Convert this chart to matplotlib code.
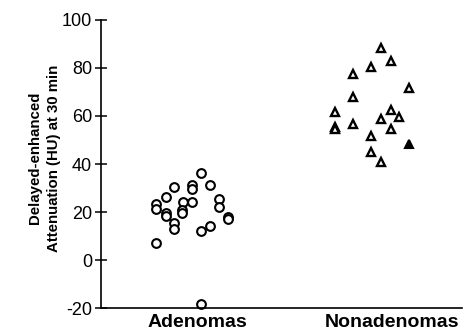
import numpy as np
import matplotlib.pyplot as plt

plt.rcParams['font.family'] = ['Liberation Sans', 'DejaVu Sans']

categories = ["Adenomas", "Nonadenomas"]

# adenomas: horizontal jitter (category units) and HU values
aden_dx = [0.02, 0.067, -0.027, -0.027, -0.118, -0.16, -0.21, -0.21, -0.07, -0.075,
           -0.075, -0.027, -0.16, -0.16, -0.12, -0.12, 0.113, 0.113, 0.16, 0.16,
           0.067, 0.02, -0.21, 0.02]
aden_hu = [36.1, 31.3, 31.3, 29.5, 30.3, 26.3, 23.2, 21.3, 24.0, 20.8,
           19.7, 24.0, 19.4, 18.3, 15.3, 12.8, 25.4, 22.2, 18.0, 17.1,
           14.3, 12.1, 7.2, -18.3]

# nonadenomas (open triangles)
non_dx = [-0.056, -0.005, -0.105, -0.2, 0.087, -0.2, -0.29, -0.005, 0.036, -0.056,
          -0.2, -0.29, -0.29, -0.005, -0.105, -0.105, -0.056]
non_hu = [88.2, 83.1, 80.3, 77.4, 71.5, 67.8, 61.8, 62.5, 59.7, 58.6,
          56.7, 55.6, 54.4, 54.6, 51.8, 44.9, 41.0]
# nonadenoma drawn filled
non_fill_dx = [0.087]
non_fill_hu = [48.2]

yticks = [-20, 0, 20, 40, 60, 80, 100]

fig = plt.figure(figsize=(4.69, 3.33), dpi=100)
ax = fig.add_axes([0.2154, 0.075, 0.77, 0.865])

ax.plot(1 + np.array(aden_dx), aden_hu, linestyle='none', marker='o', ms=6.3,
        mfc='white', mec='black', mew=1.5, clip_on=False)
ax.plot(2 + np.array(non_dx), non_hu, linestyle='none', marker='^', ms=5.8,
        mfc='white', mec='black', mew=1.7, clip_on=False)
ax.plot(2 + np.array(non_fill_dx), non_fill_hu, linestyle='none', marker='^', ms=6.3,
        mfc='black', mec='black', mew=1.5, clip_on=False)

ax.set_xlim(0.508, 2.36)
ax.set_ylim(-20, 100)
ax.set_yticks(yticks)
ax.set_yticklabels([str(t) for t in yticks], fontsize=13)
ax.set_xticks([1, 2])
ax.set_xticklabels(categories, fontsize=14, fontweight='bold')
ax.tick_params(axis='x', length=0, pad=4)
ax.tick_params(axis='y', direction='inout', length=9, width=1.1, pad=2)

ax.spines['top'].set_visible(False)
ax.spines['right'].set_visible(False)
ax.spines['left'].set_linewidth(1.2)
ax.spines['bottom'].set_linewidth(1.2)

ax.set_ylabel("Delayed-enhanced\nAttenuation (HU) at 30 min", fontsize=10.8,
              fontweight='bold', linespacing=1.5)
ax.yaxis.set_label_coords(-0.11, 0.52)

fig.savefig("out.png", dpi=100)
